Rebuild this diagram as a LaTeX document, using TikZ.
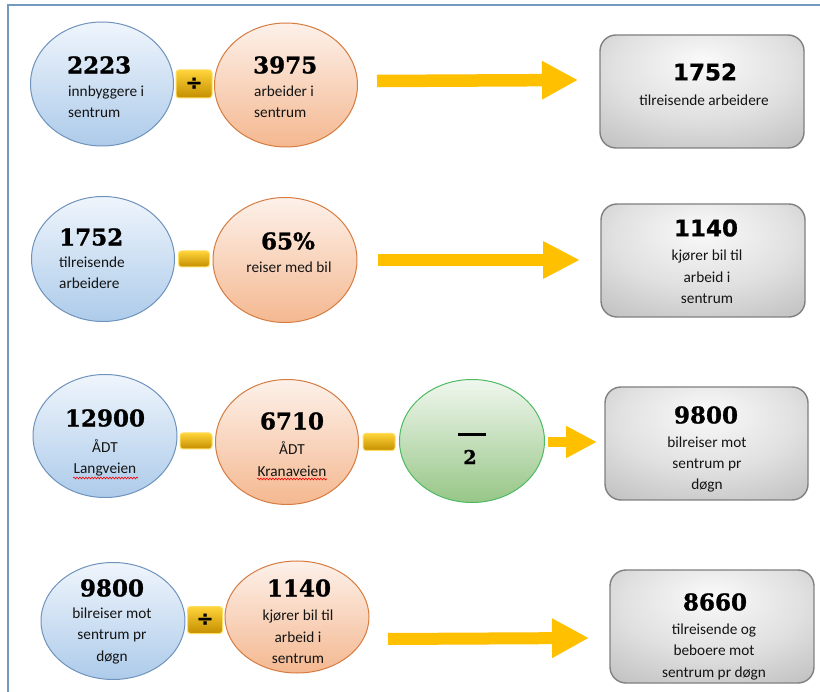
\documentclass[tikz,border=0pt]{standalone}
\usepackage{fontspec}
\setmainfont{Carlito}
\newfontfamily\numserif{DejaVu Serif}[BoldFeatures={FakeBold=1.2}]
\newfontfamily\numsans{DejaVu Sans}[BoldFeatures={FakeBold=0.8}]
\usetikzlibrary{shapes.geometric,arrows.meta,decorations.pathmorphing}
\definecolor{frame}{HTML}{7499C0}
\definecolor{bluetop}{HTML}{EFF5FC}
\definecolor{bluebot}{HTML}{ADCBEA}
\definecolor{blueline}{HTML}{6F93BC}
\definecolor{ortop}{HTML}{FDF1EA}
\definecolor{orbot}{HTML}{F4B890}
\definecolor{orline}{HTML}{D67C40}
\definecolor{grtop}{HTML}{F0F7EE}
\definecolor{grbot}{HTML}{97C687}
\definecolor{grline}{HTML}{4DBA62}
\definecolor{optop}{HTML}{FFD43A}
\definecolor{opbot}{HTML}{C48E00}
\definecolor{opline}{HTML}{FFDD5E}
\definecolor{grayline}{HTML}{808080}
\definecolor{arrowc}{HTML}{FFC000}
\pgfdeclareradialshading{grayglow}{\pgfpoint{0bp}{14bp}}{color(0bp)=(black!2); color(22bp)=(black!12); color(50bp)=(black!31); color(85bp)=(black!45)}
\tikzset{
  ell/.style={ellipse, inner sep=0pt, line width=1pt},
  blueell/.style={ell, draw=blueline, top color=bluetop, bottom color=bluebot},
  orell/.style={ell, draw=orline, top color=ortop, bottom color=orbot},
  grell/.style={ell, draw=grline, top color=grtop, bottom color=grbot},
  opbox/.style={rectangle, rounded corners=3pt, draw=opline, line width=1pt, top color=optop, bottom color=opbot, inner sep=0pt},
  graybox/.style={rectangle, rounded corners=16pt, draw=grayline, line width=1.4pt, shade, shading=grayglow, minimum width=204, minimum height=113, inner sep=0pt},
  numser/.style={font=\numserif\bfseries\fontsize{23}{26}\selectfont, inner sep=0pt},
  numsan/.style={font=\numsans\bfseries\fontsize{23}{26}\selectfont, inner sep=0pt},
  txt/.style={font=\fontsize{15.3}{21.3}\selectfont, inner sep=0pt, text=black!92},
  opsym/.style={font=\numsans\bfseries\fontsize{20}{20}\selectfont, inner sep=0pt},
  bigarrow/.style={draw=arrowc},
  spell/.style={draw=red, line width=0.6pt, decorate, decoration={snake, amplitude=0.9pt, segment length=3pt}}
}
\begin{document}
\begin{tikzpicture}[x=1pt,y=-1pt]
\useasboundingbox (0,0) rectangle (820,692);
\fill[white] (0,0) rectangle (820,692);
\draw[frame, line width=2pt] (8,692) -- (8,5) -- (820,5);

% ---------- Row 1 ----------
\node[blueell, minimum width=143, minimum height=124] (b1) at (102,84) {};
\node[orell, minimum width=143, minimum height=124] (o1) at (286,85) {};
\node[opbox, minimum width=36, minimum height=28] (p1) at (194,84) {};
\node[opsym] (p1s) at (194,83.5) {÷};
\node[numser, anchor=west] (b1n) at (67,65) {2223};
\node[txt, align=left, anchor=west] (b1t) at (68,102) {innbyggere i\\sentrum};
\node[numser, anchor=west] (o1n) at (253,65) {3975};
\node[txt, align=left, anchor=west] (o1t) at (254,102) {arbeider i\\sentrum};
\node[graybox] (g1) at (702,91.5) {};
\node[numsan] (g1n) at (705,72) {1752};
\node[txt] (g1t) at (704,100) {tilreisende arbeidere};
\coordinate (a1s) at (377,81);
\coordinate (a1e) at (578,80);
\draw[bigarrow, line width=12.5pt, -{Triangle[length=36pt,width=36pt]}] (a1s) -- (a1e);

% ---------- Row 2 ----------
\node[blueell, minimum width=143, minimum height=125] (b2) at (103,259) {};
\node[orell, minimum width=144, minimum height=125] (o2) at (285,260) {};
\node[opbox, minimum width=31, minimum height=16] (p2) at (194,259) {};
\node[numser, anchor=west] (b2n) at (59,237) {1752};
\node[txt, align=left, anchor=west] (b2t) at (59,273) {tilreisende\\arbeidere};
\node[numser] (o2n) at (288,241) {65\%};
\node[txt] (o2t) at (289,267) {reiser med bil};
\node[graybox] (g2) at (703,260.5) {};
\node[numsan] (g2n) at (706,228) {1140};
\node[txt, align=center] (g2t) at (707,277) {kjører bil til\\arbeid i\\sentrum};
\coordinate (a2s) at (378,260);
\coordinate (a2e) at (580,260);
\draw[bigarrow, line width=12pt, -{Triangle[length=37pt,width=35pt]}] (a2s) -- (a2e);

% ---------- Row 3 ----------
\node[blueell, minimum width=144, minimum height=123] (b3) at (105,436) {};
\node[orell, minimum width=143, minimum height=125] (o3) at (287,442) {};
\node[grell, minimum width=145, minimum height=123] (gr3) at (472,441) {};
\node[opbox, minimum width=32, minimum height=16] (p3a) at (196,441) {};
\node[opbox, minimum width=32, minimum height=17] (p3b) at (379,442) {};
\node[numser] (b3n) at (105,418) {12900};
\node[txt, align=center] (b3t) at (105,458) {ÅDT\\Langveien};
\node[numser] (o3n) at (292,421) {6710};
\node[txt, align=center] (o3t) at (292,459) {ÅDT\\Kranaveien};
\draw[spell] (73,478) -- (138,478);
\draw[spell] (257,479) -- (327,479);
\draw[black, line width=2.6pt] (458,434.5) -- (486,434.5);
\node[numser, font=\numserif\bfseries\fontsize{19}{20}\selectfont] (gr3n) at (470,457) {2};
\node[graybox, minimum width=203] (g3) at (706.5,443.5) {};
\node[numser] (g3n) at (706,415) {9800};
\node[txt, align=center] (g3t) at (707,464.5) {bilreiser mot\\sentrum pr\\døgn};
\coordinate (a3s) at (548,442);
\coordinate (a3e) at (597,442);
\draw[bigarrow, line width=10pt, -{Triangle[length=31pt,width=30pt]}] (a3s) -- (a3e);

% ---------- Row 4 ----------
\node[blueell, minimum width=144, minimum height=117] (b4) at (113,621) {};
\node[orell, minimum width=144, minimum height=112] (o4) at (297,617) {};
\node[opbox, minimum width=35, minimum height=27] (p4) at (205,620) {};
\node[opsym] (p4s) at (205,619.5) {÷};
\node[numser] (b4n) at (112,588) {9800};
\node[txt, align=center] (b4t) at (112,636) {bilreiser mot\\sentrum pr\\døgn};
\node[numser] (o4n) at (299,588) {1140};
\node[txt, align=center] (o4t) at (298,637) {kjører bil til\\arbeid i\\sentrum};
\node[graybox] (g4) at (712,626.5) {};
\node[numser] (g4n) at (715,602) {8660};
\node[txt, align=center] (g4t) at (714,652) {tilreisende og\\beboere mot\\sentrum pr døgn};
\coordinate (a4s) at (388,639);
\coordinate (a4e) at (589,638);
\draw[bigarrow, line width=12pt, -{Triangle[length=37pt,width=37pt]}] (a4s) -- (a4e);
\end{tikzpicture}
\end{document}
